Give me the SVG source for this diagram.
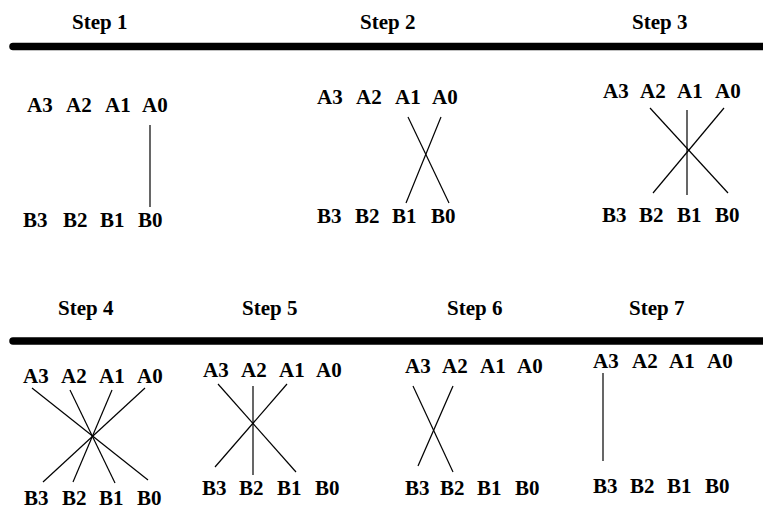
<svg xmlns="http://www.w3.org/2000/svg" width="763" height="514" viewBox="0 0 763 514">
<style>
.t{font-family:"Liberation Serif","Times New Roman",serif;font-weight:bold;fill:#000}
.h{font-size:21px}
.l{font-size:21px}
.bar{stroke:#000;stroke-width:7.5;stroke-linecap:round;fill:none}
.c{stroke:#000;stroke-width:1.2;fill:none}
</style>
<rect width="763" height="514" fill="#fff"/>
<g id="bars">
<line class="bar" x1="13" y1="46.5" x2="775" y2="46.5"/>
<line class="bar" x1="13" y1="341" x2="775" y2="341"/>
</g>
<g id="step1">
<text class="t h" x="72" y="29">Step 1</text>
<text class="t l" x="27" y="112">A3</text><text class="t l" x="66" y="112">A2</text><text class="t l" x="105" y="112">A1</text><text class="t l" x="142" y="112">A0</text>
<text class="t l" x="23" y="227">B3</text><text class="t l" x="63" y="227">B2</text><text class="t l" x="100" y="227">B1</text><text class="t l" x="138" y="227">B0</text>
</g>
<g id="step2">
<text class="t h" x="360" y="29">Step 2</text>
<text class="t l" x="317" y="104">A3</text><text class="t l" x="356" y="104">A2</text><text class="t l" x="395" y="104">A1</text><text class="t l" x="432" y="104">A0</text>
<text class="t l" x="317" y="223">B3</text><text class="t l" x="355" y="223">B2</text><text class="t l" x="392" y="223">B1</text><text class="t l" x="431" y="223">B0</text>
</g>
<g id="step3">
<text class="t h" x="632" y="29">Step 3</text>
<text class="t l" x="603" y="98">A3</text><text class="t l" x="640" y="98">A2</text><text class="t l" x="677" y="98">A1</text><text class="t l" x="715" y="98">A0</text>
<text class="t l" x="602" y="222">B3</text><text class="t l" x="639" y="222">B2</text><text class="t l" x="677" y="222">B1</text><text class="t l" x="715" y="222">B0</text>
</g>
<g id="step4">
<text class="t h" x="58" y="315">Step 4</text>
<text class="t l" x="23" y="383">A3</text><text class="t l" x="61" y="383">A2</text><text class="t l" x="99" y="383">A1</text><text class="t l" x="137" y="383">A0</text>
<text class="t l" x="24" y="505">B3</text><text class="t l" x="62" y="505">B2</text><text class="t l" x="99" y="505">B1</text><text class="t l" x="137" y="505">B0</text>
</g>
<g id="step5">
<text class="t h" x="242" y="315">Step 5</text>
<text class="t l" x="203" y="377">A3</text><text class="t l" x="241" y="377">A2</text><text class="t l" x="279" y="377">A1</text><text class="t l" x="316" y="377">A0</text>
<text class="t l" x="202" y="495">B3</text><text class="t l" x="239" y="495">B2</text><text class="t l" x="277" y="495">B1</text><text class="t l" x="315" y="495">B0</text>
</g>
<g id="step6">
<text class="t h" x="447" y="315">Step 6</text>
<text class="t l" x="405" y="373">A3</text><text class="t l" x="442" y="373">A2</text><text class="t l" x="480" y="373">A1</text><text class="t l" x="517" y="373">A0</text>
<text class="t l" x="405" y="495">B3</text><text class="t l" x="440" y="495">B2</text><text class="t l" x="477" y="495">B1</text><text class="t l" x="515" y="495">B0</text>
</g>
<g id="step7">
<text class="t h" x="629" y="315">Step 7</text>
<text class="t l" x="593" y="368">A3</text><text class="t l" x="632" y="368">A2</text><text class="t l" x="669" y="368">A1</text><text class="t l" x="707" y="368">A0</text>
<text class="t l" x="593" y="493">B3</text><text class="t l" x="630" y="493">B2</text><text class="t l" x="667" y="493">B1</text><text class="t l" x="705" y="493">B0</text>
</g>
<g id="connectors">
<line class="c" x1="150" y1="125" x2="150" y2="207"/>
<line class="c" x1="408" y1="117" x2="449" y2="203"/>
<line class="c" x1="441" y1="117" x2="406" y2="203"/>
<line class="c" x1="687" y1="110" x2="687" y2="195"/>
<line class="c" x1="650" y1="108" x2="728" y2="193"/>
<line class="c" x1="724" y1="108" x2="653" y2="193"/>
<line class="c" x1="32" y1="388" x2="148" y2="480"/>
<line class="c" x1="70" y1="390" x2="115" y2="483"/>
<line class="c" x1="112" y1="390" x2="73" y2="482"/>
<line class="c" x1="145" y1="388" x2="43" y2="482"/>
<line class="c" x1="253" y1="386" x2="253" y2="475"/>
<line class="c" x1="218" y1="384" x2="296" y2="472"/>
<line class="c" x1="287" y1="384" x2="215" y2="467"/>
<line class="c" x1="413" y1="386" x2="453" y2="472"/>
<line class="c" x1="453" y1="386" x2="418" y2="466"/>
<line class="c" x1="603" y1="373" x2="603" y2="461"/>
</g>
</svg>
